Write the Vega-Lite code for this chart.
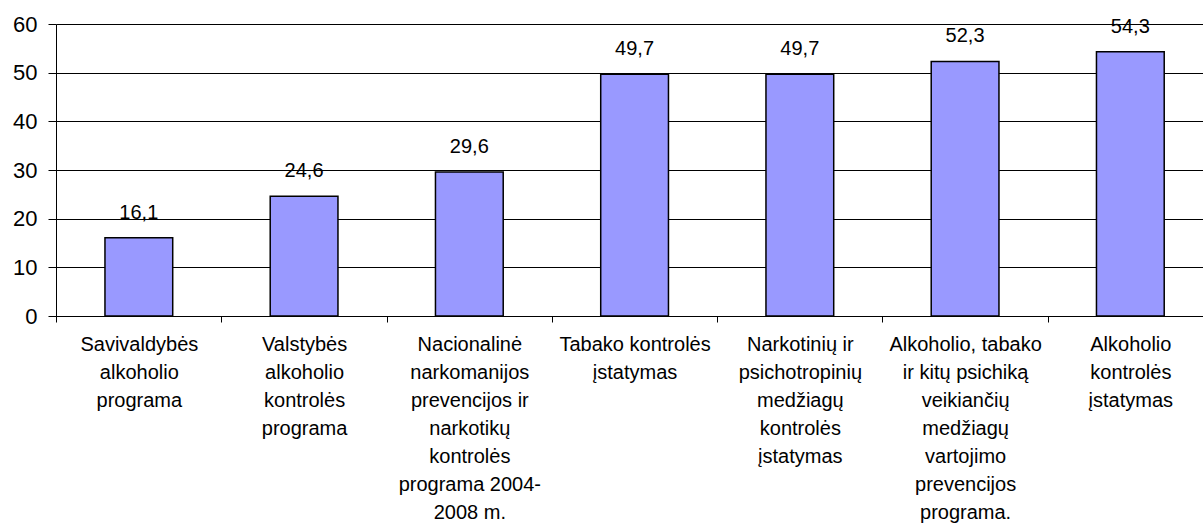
{
  "$schema": "https://vega.github.io/schema/vega-lite/v6.json",
  "width": 1147,
  "height": 292,
  "autosize": {"type": "none"},
  "padding": {"left": 56, "top": 24, "right": 0, "bottom": 208},
  "background": "white",
  "data": {
    "values": [
      {"label": "Savivaldybės|alkoholio|programa", "value": 16.1},
      {"label": "Valstybės|alkoholio|kontrolės|programa", "value": 24.6},
      {"label": "Nacionalinė|narkomanijos|prevencijos ir|narkotikų|kontrolės|programa 2004-|2008 m.", "value": 29.6},
      {"label": "Tabako kontrolės|įstatymas", "value": 49.7},
      {"label": "Narkotinių ir|psichotropinių|medžiagų|kontrolės|įstatymas", "value": 49.7},
      {"label": "Alkoholio, tabako|ir kitų psichiką|veikiančių|medžiagų|vartojimo|prevencijos|programa.", "value": 52.3},
      {"label": "Alkoholio|kontrolės|įstatymas", "value": 54.3}
    ]
  },
  "encoding": {
    "x": {
      "field": "label",
      "type": "nominal",
      "sort": null,
      "scale": {"paddingInner": 0.59, "paddingOuter": 0.2655, "align": 0.558, "round": false},
      "axis": {
        "title": null,
        "labelAngle": 0,
        "labelExpr": "split(datum.label, '|')",
        "labelLineHeight": 28,
        "labelBaseline": "top",
        "labelAlign": "center",
        "labelPadding": 12,
        "labelLimit": 0,
        "labelOverlap": false,
        "labelFlush": false,
        "labelFont": "Liberation Sans",
        "labelFontSize": 20,
        "labelColor": "#000000",
        "labelOffset": 82.6,
        "tickSize": 6,
        "tickOffset": -82.6,
        "tickColor": "#000000",
        "domainColor": "#000000",
        "grid": false
      }
    },
    "y": {
      "field": "value",
      "type": "quantitative",
      "scale": {"domain": [0, 60], "nice": false},
      "axis": {
        "title": null,
        "values": [0, 10, 20, 30, 40, 50, 60],
        "labelFont": "Liberation Sans",
        "labelFontSize": 22,
        "labelColor": "#000000",
        "labelPadding": 11,
        "tickSize": 8,
        "tickColor": "#000000",
        "domainColor": "#000000",
        "grid": true,
        "gridColor": "#000000",
        "gridOpacity": 1,
        "gridWidth": 1
      }
    }
  },
  "layer": [
    {
      "mark": {"type": "bar", "fill": "#9999FF", "stroke": "#000000", "strokeWidth": 1.5}
    },
    {
      "mark": {"type": "text", "baseline": "alphabetic", "align": "center", "dy": -19, "font": "Liberation Sans", "fontSize": 20, "color": "#000000"},
      "encoding": {
        "text": {"field": "value", "type": "quantitative", "format": ".1f"}
      }
    }
  ],
  "config": {
    "view": {"stroke": null},
    "locale": {
      "number": {"decimal": ",", "thousands": " ", "grouping": [3], "currency": ["", " €"]}
    }
  }
}
